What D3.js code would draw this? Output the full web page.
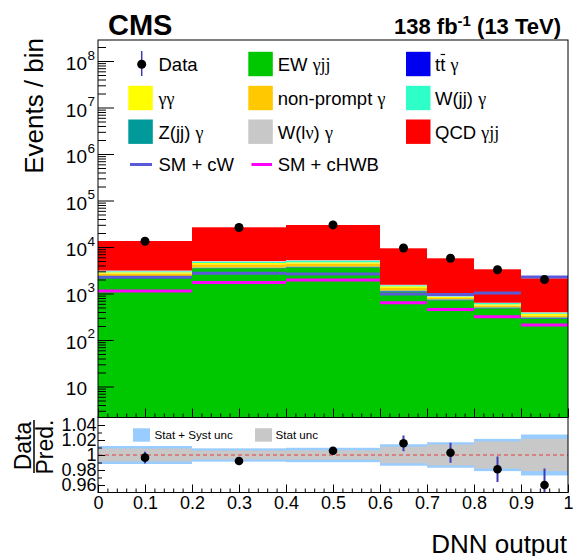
<!DOCTYPE html>
<html>
<head>
<meta charset="utf-8">
<script src="https://cdn.jsdelivr.net/npm/d3@7"></script>
<style>
  html, body { margin: 0; padding: 0; background: #fff; }
  svg { display: block; }
</style>
</head>
<body>
<svg id="chart" width="573" height="556"></svg>
<script>
// ---- binning (DNN output) ----
const binEdges = [0, 0.2, 0.4, 0.6, 0.7, 0.8, 0.9, 1.0];

// ---- stacked backgrounds / signal, events per bin (bottom of stack first) ----
const ewGammaJJ  = [2300, 3500, 3650, 1100, 715, 480, 290];
const ttGamma    = [30, 50, 57, 25, 15, 10, 8];
const zjjGamma   = [48, 74, 100, 35, 21, 15, 10];
const nonPrompt  = [315, 622, 611, 153, 49, 47, 29];
const gammaGamma = [164, 283, 270, 115, 41, 34, 31];
const wjjGamma   = [145, 301, 311, 73, 21, 38, 20];
const wlnuGamma  = [121, 169, 254, 38, 22, 10, 8];
const qcdGammaJJ = [10337, 21531, 24477, 7837, 4831, 2681, 1727];

// ---- EFT variations ----
const smPlusCW   = [2231, 2720, 2627, 975, 951, 1025, 2264];
const smPlusCHWB = [1132, 1724, 1951, 634, 453, 317, 210];

// ---- observed data ----
const dataCounts = [13300, 26300, 29900, 9500, 5730, 3250, 1990];

// ---- ratio panel ----
const ratioVals   = [0.9965, 0.992, 1.0057, 1.0156, 1.003, 0.981, 0.960];
const ratioErrs   = [0.0077, 0.005, 0.005, 0.0105, 0.0133, 0.017, 0.022];
const statSystUnc = [0.012, 0.0089, 0.0096, 0.0143, 0.017, 0.0215, 0.0273];
const statUnc     = [0.0086, 0.006, 0.0062, 0.011, 0.014, 0.018, 0.0215];

// ---- axis ticks ----
const yMajorExps   = [1, 2, 3, 4, 5, 6, 7, 8];
const xMajorTicks  = [0, 0.1, 0.2, 0.3, 0.4, 0.5, 0.6, 0.7, 0.8, 0.9, 1];
const ratioTicks   = [0.96, 0.98, 1, 1.02, 1.04];
const ratioMinor   = [0.97, 0.99, 1.01, 1.03];

// ---- stack definition ----
const layers = [
  { key: "ew",   values: ewGammaJJ,  color: "#00c800" },
  { key: "tt",   values: ttGamma,    color: "#0000f0" },
  { key: "zjj",  values: zjjGamma,   color: "#009a9a" },
  { key: "np",   values: nonPrompt,  color: "#ffc800" },
  { key: "gg",   values: gammaGamma, color: "#ffff00" },
  { key: "wjj",  values: wjjGamma,   color: "#2effc8" },
  { key: "wlnu", values: wlnuGamma,  color: "#c8c8c8" },
  { key: "qcd",  values: qcdGammaJJ, color: "#ff0000" }
];
const colorOf = Object.fromEntries(layers.map(l => [l.key, l.color]));
const cwColor = "#5a5ad8";
const chwbColor = "#ff00ff";
const errColor = "#3c3cb4";

const bins = binEdges.slice(0, -1).map((lo, i) => {
  const row = { lo, hi: binEdges[i + 1], mid: (lo + binEdges[i + 1]) / 2 };
  layers.forEach(l => row[l.key] = l.values[i]);
  return row;
});

const SANS = "'Liberation Sans', Arial, Helvetica, sans-serif";
const SERIF = "'Liberation Serif', 'Times New Roman', serif";

// ---- layout ----
const L = 98, R = 568, T = 40, MB = 417.5, RB = 492.5;

const svg = d3.select("#chart");
const x = d3.scaleLinear().domain([0, 1]).range([L, R]);
const y = d3.scaleLog().domain([2.154, 2.83e8]).range([MB, T]);
const yr = d3.scaleLinear().domain([0.95, 1.05]).range([RB, MB]);

svg.append("defs").append("clipPath").attr("id", "mainClip")
  .append("rect").attr("x", L).attr("y", T).attr("width", R - L).attr("height", MB - T);
svg.select("defs").append("clipPath").attr("id", "ratioClip")
  .append("rect").attr("x", L).attr("y", MB).attr("width", R - L).attr("height", RB - MB);

// ---- stacked histogram ----
const stack = d3.stack().keys(layers.map(l => l.key));
const series = stack(bins);
const yMin = y.domain()[0];
const gMain = svg.append("g").attr("clip-path", "url(#mainClip)");
series.forEach(s => {
  gMain.append("g").attr("fill", colorOf[s.key])
    .selectAll("rect").data(s).join("rect")
    .attr("x", d => x(d.data.lo))
    .attr("width", d => x(d.data.hi) - x(d.data.lo))
    .attr("y", d => y(d[1]))
    .attr("height", d => y(Math.max(d[0], yMin)) - y(d[1]));
});

// ---- EFT lines (per-bin horizontal steps) ----
function stepLines(vals, color) {
  gMain.append("g").selectAll("line").data(vals).join("line")
    .attr("x1", (v, i) => x(binEdges[i]))
    .attr("x2", (v, i) => x(binEdges[i + 1]))
    .attr("y1", v => y(v)).attr("y2", v => y(v))
    .attr("stroke", color).attr("stroke-width", 3);
}
stepLines(smPlusCHWB, chwbColor);
stepLines(smPlusCW, cwColor);

// ---- data points ----
gMain.append("g").selectAll("circle").data(dataCounts).join("circle")
  .attr("cx", (v, i) => x(bins[i].mid))
  .attr("cy", v => y(v))
  .attr("r", 4.5).attr("fill", "#000");

// ---- main frame and axes ----
function styleAxis(g) {
  g.select(".domain").remove();
  g.selectAll("line").attr("stroke", "#000");
  g.attr("font-family", SANS).attr("font-size", 18);
  g.selectAll("text").attr("fill", "#000");
}
const minorLog = [];
for (let e = 0; e <= 8; e++) for (let k = 2; k <= 9; k++) {
  const v = k * Math.pow(10, e);
  if (v > y.domain()[0] && v < y.domain()[1]) minorLog.push(v);
}
svg.append("g").attr("transform", `translate(${L},0)`)
  .call(d3.axisRight(y).tickValues(yMajorExps.map(e => Math.pow(10, e))).tickSize(16).tickFormat(""))
  .call(styleAxis);
svg.append("g").attr("transform", `translate(${L},0)`)
  .call(d3.axisRight(y).tickValues(minorLog).tickSize(8).tickFormat(""))
  .call(styleAxis);

const xMinor = d3.range(0, 51).map(i => i / 50).filter(v => Math.round(v * 50) % 5 !== 0);
svg.append("g").attr("transform", `translate(0,${MB})`)
  .call(d3.axisTop(x).tickValues(xMajorTicks).tickSize(9).tickFormat(""))
  .call(styleAxis);
svg.append("g").attr("transform", `translate(0,${MB})`)
  .call(d3.axisTop(x).tickValues(xMinor).tickSize(4).tickFormat(""))
  .call(styleAxis);

// y labels 10^n
const yLab = svg.append("g").attr("font-family", SANS).attr("fill", "#000");
yMajorExps.forEach(e => {
  const yy = y(Math.pow(10, e));
  yLab.append("text").attr("x", 87).attr("y", yy + 9)
    .attr("text-anchor", "end").attr("font-size", 19).text("10");
  if (e > 1) {
    yLab.append("text").attr("x", 87.5).attr("y", yy - 1.5)
      .attr("font-size", 13.5).text(e);
  }
});

svg.append("rect").attr("x", L).attr("y", T).attr("width", R - L).attr("height", MB - T)
  .attr("fill", "none").attr("stroke", "#000").attr("stroke-width", 1);

// ---- ratio panel ----
const gRatio = svg.append("g").attr("clip-path", "url(#ratioClip)");
gRatio.append("g").attr("fill", "#99ccff").selectAll("rect").data(statSystUnc).join("rect")
  .attr("x", (u, i) => x(binEdges[i])).attr("width", (u, i) => x(binEdges[i + 1]) - x(binEdges[i]))
  .attr("y", u => yr(1 + u)).attr("height", u => yr(1 - u) - yr(1 + u));
gRatio.append("g").attr("fill", "#c8c8c8").selectAll("rect").data(statUnc).join("rect")
  .attr("x", (u, i) => x(binEdges[i])).attr("width", (u, i) => x(binEdges[i + 1]) - x(binEdges[i]))
  .attr("y", u => yr(1 + u)).attr("height", u => yr(1 - u) - yr(1 + u));
gRatio.append("line").attr("x1", L).attr("x2", R).attr("y1", yr(1)).attr("y2", yr(1))
  .attr("stroke", "#e03c3c").attr("stroke-width", 1).attr("stroke-dasharray", "4,3");
gRatio.append("g").selectAll("line").data(ratioVals).join("line")
  .attr("x1", (v, i) => x(bins[i].mid)).attr("x2", (v, i) => x(bins[i].mid))
  .attr("y1", (v, i) => yr(v + ratioErrs[i])).attr("y2", (v, i) => yr(v - ratioErrs[i]))
  .attr("stroke", errColor).attr("stroke-width", 2);
gRatio.append("g").selectAll("circle").data(ratioVals).join("circle")
  .attr("cx", (v, i) => x(bins[i].mid)).attr("cy", v => yr(v))
  .attr("r", 4.3).attr("fill", "#000");

// ratio legend
const rl = svg.append("g").attr("font-family", SANS).attr("font-size", 11.6).attr("fill", "#000");
rl.append("rect").attr("x", 133).attr("y", 428.3).attr("width", 17).attr("height", 13.4).attr("fill", "#99ccff");
rl.append("text").attr("x", 154.5).attr("y", 439).text("Stat + Syst unc");
rl.append("rect").attr("x", 255).attr("y", 428.3).attr("width", 17).attr("height", 13.4).attr("fill", "#c8c8c8");
rl.append("text").attr("x", 275.5).attr("y", 439).text("Stat unc");

// ratio axes
svg.append("g").attr("transform", `translate(${L},0)`)
  .call(d3.axisLeft(yr).tickValues(ratioTicks).tickSizeInner(-7).tickSizeOuter(0).tickPadding(1.5)
    .tickFormat(d => d === 1 ? "1" : d.toFixed(2)))
  .call(styleAxis);
svg.append("g").attr("transform", `translate(${L},0)`)
  .call(d3.axisRight(yr).tickValues(ratioMinor).tickSize(4).tickFormat(""))
  .call(styleAxis);
svg.append("g").attr("transform", `translate(0,${RB})`)
  .call(d3.axisBottom(x).tickValues(xMajorTicks).tickSizeInner(-8).tickSizeOuter(0).tickPadding(3.5)
    .tickFormat(d => d === 0 ? "0" : d === 1 ? "1" : d.toFixed(1)))
  .call(styleAxis);
svg.append("g").attr("transform", `translate(0,${RB})`)
  .call(d3.axisTop(x).tickValues(xMinor).tickSize(4).tickFormat(""))
  .call(styleAxis);

svg.append("rect").attr("x", L).attr("y", MB).attr("width", R - L).attr("height", RB - MB)
  .attr("fill", "none").attr("stroke", "#000").attr("stroke-width", 1);

// ---- titles ----
svg.append("text").attr("x", 108).attr("y", 35).attr("font-family", SANS)
  .attr("font-weight", "bold").attr("font-size", 29).attr("fill", "#000").text("CMS");
const lumi = svg.append("text").attr("x", 561).attr("y", 33.5).attr("text-anchor", "end")
  .attr("font-family", SANS).attr("font-weight", "bold").attr("font-size", 22).attr("fill", "#000");
lumi.append("tspan").text("138 fb");
lumi.append("tspan").attr("font-size", 15).attr("dy", -8).text("-1");
lumi.append("tspan").attr("dy", 8).text(" (13 TeV)");

svg.append("text").attr("transform", "translate(43,38) rotate(-90)").attr("text-anchor", "end")
  .attr("font-family", SANS).attr("font-size", 26).attr("fill", "#000").text("Events / bin");

svg.append("text").attr("transform", "translate(31,446) rotate(-90)").attr("text-anchor", "middle")
  .attr("font-family", SANS).attr("font-size", 23).attr("fill", "#000").text("Data");
svg.append("text").attr("transform", "translate(52.5,447) rotate(-90)").attr("text-anchor", "middle")
  .attr("font-family", SANS).attr("font-size", 23).attr("fill", "#000").text("Pred.");
svg.append("line").attr("x1", 34).attr("x2", 34).attr("y1", 420).attr("y2", 473)
  .attr("stroke", "#000").attr("stroke-width", 1.5);

svg.append("text").attr("x", 567).attr("y", 553).attr("text-anchor", "end")
  .attr("font-family", SANS).attr("font-size", 26).attr("fill", "#000").text("DNN output");

// ---- main legend ----
const leg = svg.append("g").attr("font-family", SANS).attr("font-size", 18.5).attr("fill", "#000");
const colBox = [128.3, 248.3, 406];
const colText = [158.5, 277.7, 435];
const rowC = [64, 98, 131.7, 164.5];

function legText(col, row, parts) {
  const t = leg.append("text").attr("x", colText[col]).attr("y", rowC[row] + 6.8);
  parts.forEach(([s, serif]) => {
    const ts = t.append("tspan").text(s);
    if (serif) ts.attr("font-family", SERIF).attr("font-size", 18);
  });
  return t;
}
function legBox(col, row, color) {
  leg.append("rect").attr("x", colBox[col]).attr("y", rowC[row] - 12.2)
    .attr("width", 24.5).attr("height", 24.4).attr("fill", color);
}
// Data
leg.append("line").attr("x1", 141.7).attr("x2", 141.7).attr("y1", 51).attr("y2", 76)
  .attr("stroke", errColor).attr("stroke-width", 1.5);
leg.append("circle").attr("cx", 141.7).attr("cy", 64.3).attr("r", 4.5).attr("fill", "#000");
legText(0, 0, [["Data"]]);

legBox(1, 0, colorOf.ew);   legText(1, 0, [["EW "], ["\u03b3jj", true]]);
legBox(2, 0, colorOf.tt);
const ttLab = legText(2, 0, [["tt "], ["\u03b3", true]]);
legBox(0, 1, colorOf.gg);   legText(0, 1, [["\u03b3\u03b3", true]]);
legBox(1, 1, colorOf.np);   legText(1, 1, [["non-prompt "], ["\u03b3", true]]);
legBox(2, 1, colorOf.wjj);  legText(2, 1, [["W(jj) "], ["\u03b3", true]]);
legBox(0, 2, colorOf.zjj);  legText(0, 2, [["Z(jj) "], ["\u03b3", true]]);
legBox(1, 2, colorOf.wlnu); legText(1, 2, [["W(l"], ["\u03bd", true], [") "], ["\u03b3", true]]);
legBox(2, 2, colorOf.qcd);  legText(2, 2, [["QCD "], ["\u03b3jj", true]]);

leg.append("line").attr("x1", 130).attr("x2", 152).attr("y1", rowC[3]).attr("y2", rowC[3])
  .attr("stroke", cwColor).attr("stroke-width", 3);
legText(0, 3, [["SM + cW"]]);
leg.append("line").attr("x1", 251.5).attr("x2", 272).attr("y1", rowC[3]).attr("y2", rowC[3])
  .attr("stroke", chwbColor).attr("stroke-width", 3);
legText(1, 3, [["SM + cHWB"]]);

// overline on the anti-top
{
  const node = ttLab.node();
  const s = node.getStartPositionOfChar(1), e = node.getEndPositionOfChar(1);
  leg.append("line").attr("x1", s.x + 0.5).attr("x2", e.x - 0.2)
    .attr("y1", rowC[0] - 9.5).attr("y2", rowC[0] - 9.5)
    .attr("stroke", "#000").attr("stroke-width", 1.2);
}
</script>
</body>
</html>
